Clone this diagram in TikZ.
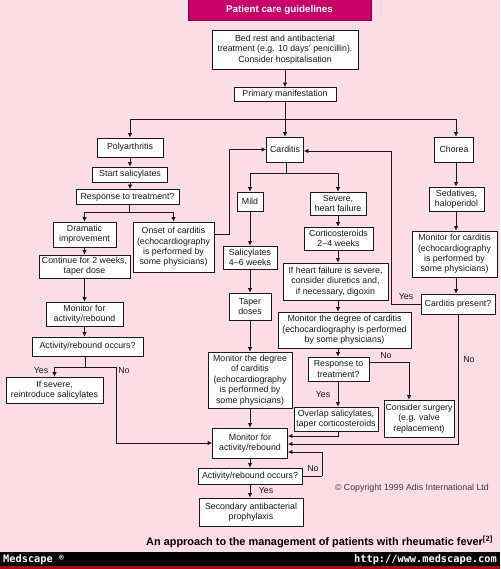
\documentclass[tikz,border=0pt]{standalone}
\usepackage{fontspec}
\setmainfont{Liberation Sans}
\newfontfamily\monofnt{DejaVu Sans Mono}
\usetikzlibrary{arrows.meta}
\definecolor{pinkbg}{RGB}{252,221,229}
\definecolor{titlemag}{RGB}{200,0,104}
\definecolor{barred}{RGB}{170,10,20}
\definecolor{ink}{RGB}{25,25,25}
\newcommand\fs{\fontsize{8.8}{10.4}\selectfont}
\tikzset{
  box/.style={draw=ink, fill=white, line width=0.75pt, inner sep=1pt, align=center, font=\fs, text=ink},
  arr/.style={draw=ink, line width=0.75pt, -{Latex[length=4.5pt,width=4.5pt]}},
  ln/.style={draw=ink, line width=0.75pt},
  lbl/.style={font=\fs, text=ink, inner sep=0pt}
}
\begin{document}
\begin{tikzpicture}[x=1pt,y=-1pt]
\fill[pinkbg] (0,0) rectangle (500,569);
\useasboundingbox (0,0) rectangle (500,569);
% title
\node[draw=titlemag!70!black, fill=titlemag, line width=0.6pt, minimum width=183pt, minimum height=21pt, inner sep=0pt,
      text=white, font=\fontsize{9.8}{11}\selectfont\bfseries] (title) at (279.5,10) {Patient care guidelines};
% nodes
\node[box, minimum width=146pt, minimum height=39pt] (b1) at (285,49.5) {Bed rest and antibacterial\\treatment (e.g. 10 days’ penicillin).\\Consider hospitalisation};
\node[box, minimum width=102pt, minimum height=14pt] (prim) at (285,94.5) {Primary manifestation};
\node[box, minimum width=66pt, minimum height=19pt] (poly) at (130,147.5) {Polyarthritis};
\node[box, minimum width=37pt, minimum height=25pt] (card) at (285,149.5) {Carditis};
\node[box, minimum width=39pt, minimum height=25pt] (chorea) at (454,149.5) {Chorea};
\node[box, minimum width=75pt, minimum height=15pt] (start) at (130,174.5) {Start salicylates};
\node[box, minimum width=103pt, minimum height=15pt] (resp1) at (127.5,197) {Response to treatment?};
\node[box, minimum width=63pt, minimum height=25pt] (dram) at (84.5,234.5) {Dramatic\\improvement};
\node[box, minimum width=81pt, minimum height=50pt] (onset) at (173.5,247) {Onset of carditis\\(echocardiography\\is performed by\\some physicians)};
\node[box, minimum width=91pt, minimum height=23pt] (cont) at (84.5,266.5) {Continue for 2 weeks,\\taper dose};
\node[box, minimum width=77pt, minimum height=24pt] (mon1) at (84.5,314) {Monitor for\\activity/rebound};
\node[box, minimum width=111pt, minimum height=19pt] (act1) at (87.5,346.5) {Activity/rebound occurs?};
\node[box, minimum width=97pt, minimum height=26pt] (sev) at (54.5,390) {If severe,\\reintroduce salicylates};
\node[box, minimum width=26pt, minimum height=19pt] (mild) at (250,201.5) {Mild};
\node[box, minimum width=56pt, minimum height=23pt] (severe) at (338,203.5) {Severe,\\heart failure};
\node[box, minimum width=69pt, minimum height=23pt] (cort) at (338.5,238.5) {Corticosteroids\\2–4 weeks};
\node[box, minimum width=105pt, minimum height=37pt] (ifhf) at (335.5,281.5) {If heart failure is severe,\\consider diuretics and,\\if necessary, digoxin};
\node[box, minimum width=133pt, minimum height=36pt] (mondeg) at (344.5,330) {Monitor the degree of carditis\\(echocardiography is performed\\by some physicians)};
\node[box, minimum width=61pt, minimum height=24pt] (resp2) at (338.5,369) {Response to\\treatment?};
\node[box, minimum width=70pt, minimum height=37pt] (surg) at (419,418.5) {Consider surgery\\(e.g. valve\\replacement)};
\node[box, minimum width=84pt, minimum height=24pt] (overlap) at (336,419) {Overlap salicylates,\\taper corticosteroids};
\node[box, minimum width=54pt, minimum height=23pt] (sal) at (250,257.5) {Salicylates\\4–6 weeks};
\node[box, minimum width=42pt, minimum height=27pt] (taper) at (250,306.5) {Taper\\doses};
\node[box, minimum width=84pt, minimum height=56pt] (mondeg2) at (250,380) {Monitor the degree\\of carditis\\(echocardiography\\is performed by\\some physicians)};
\node[box, minimum width=75pt, minimum height=30pt] (mon2) at (250,443) {Monitor for\\activity/rebound};
\node[box, minimum width=104pt, minimum height=16pt] (act2) at (250,476) {Activity/rebound occurs?};
\node[box, minimum width=104pt, minimum height=28pt] (sec) at (251,512) {Secondary antibacterial\\prophylaxis};
\node[box, minimum width=55pt, minimum height=24pt] (sed) at (456.5,199) {Sedatives,\\haloperidol};
\node[box, minimum width=85pt, minimum height=46pt] (moncard) at (454.5,254) {Monitor for carditis\\(echocardiography\\is performed by\\some physicians)};
\node[box, minimum width=74pt, minimum height=20pt] (cpres) at (458,304) {Carditis present?};
% junctions
\coordinate (j1) at (285,119);
\coordinate (j2) at (286.5,173);
\coordinate (j3) at (129,212);
\coordinate (j4) at (85,367);
\coordinate (jno1) at (116,367);
\coordinate (jsurg) at (409,362);
\coordinate (jyes) at (391,304);
\coordinate (jon) at (229,234);
\coordinate (jloop) at (322,476);
\coordinate (jch) at (456,0);
% connectors top
\draw[arr] (b1.south) -- (prim.north);
\draw[ln] (prim.south) -- (j1);
\draw[arr] (j1) -| (poly.north);
\draw[arr] (j1) -- (card.north);
\draw[arr] (j1) -| (jch |- chorea.north);
% left branch
\draw[arr] (poly.south) -- (start.north);
\draw[arr] (start.south) -- (start.south |- resp1.north);
\draw[ln] (resp1.south -| j3) -- (j3);
\draw[arr] (j3) -| (dram.north);
\draw[arr] (j3) -| (onset.north);
\draw[arr] (dram.south) -- (cont.north);
\draw[arr] (cont.south) -- (mon1.north);
\draw[arr] (mon1.south) -- (mon1.south |- act1.north);
\draw[ln] (act1.south -| j4) -- (j4);
\draw[arr] (j4) -| (sev.north);
\draw[ln] (j4) -- (jno1);
\draw[arr] (jno1) |- (mon2.west);
\node[lbl] (yes1) at (41,371) {Yes};
\node[lbl] (no1) at (124,371) {No};
\draw[arr] ([yshift=-13pt]onset.east) -- (onset.east |- jon) -- (jon) |- (card.west);
% carditis branch
\draw[ln] (card.south -| j2) -- (j2);
\draw[arr] (j2) -| (mild.north);
\draw[arr] (j2) -| (severe.north);
\draw[arr] (mild.south) -- (sal.north);
\draw[arr] (sal.south) -- (taper.north);
\draw[arr] (taper.south) -- (mondeg2.north);
\draw[arr] (mondeg2.south) -- (mon2.north);
\draw[arr] (severe.south) -- (severe.south |- cort.north);
\draw[arr] (cort.south -| severe.south) -- (severe.south |- ifhf.north);
\draw[arr] (ifhf.south -| severe.south) -- (severe.south |- mondeg.north);
\draw[arr] (mondeg.south -| severe.south) -- (severe.south |- resp2.north);
\draw[arr] (resp2.south -| severe.south) -- (severe.south |- overlap.north);
\node[lbl] (yes2) at (323,395) {Yes};
\draw[ln] (resp2.east |- jsurg) -- (jsurg);
\draw[arr] (jsurg) -- (jsurg |- surg.north);
\node[lbl] (no2) at (386,356) {No};
\draw[arr] (overlap.south -| severe.south) |- ([yshift=7pt]mon2.east);
% chorea branch
\draw[arr] (jch |- chorea.south) -- (jch |- sed.north);
\draw[arr] (jch |- sed.south) -- (jch |- moncard.north);
\draw[arr] (jch |- moncard.south) -- (jch |- cpres.north);
\draw[ln] (cpres.west) -- (jyes);
\draw[arr] (jyes) |- ([yshift=-1.5pt]card.east);
\node[lbl] (yes3) at (406,297) {Yes};
\draw[arr] (cpres.south) |- ([yshift=-1pt]mon2.east);
\node[lbl] (no3) at (469,360) {No};
% bottom
\draw[arr] (mon2.south) -- (act2.north);
\draw[ln] (act2.east) -- (jloop);
\draw[arr] (jloop) |- ([yshift=-9pt]mon2.east);
\node[lbl] (no4) at (313,469) {No};
\draw[arr] (act2.south) -- (act2.south |- sec.north);
\node[lbl] (yes4) at (266,491) {Yes};
% texts
\node[lbl, anchor=east, text=ink!85] (copy) at (489,488) {© Copyright 1999 Adis International Ltd};
\node[lbl, anchor=east, font=\fontsize{10.9}{12}\selectfont\bfseries, text=black] (cap) at (493,542) {An approach to the management of patients with rheumatic fever\textsuperscript{[2]}};
% bar
\fill[black] (0,552) rectangle (500,566);
\fill[barred] (0,566) rectangle (500,569);
\node[anchor=west, text=white, inner sep=0pt, font=\monofnt\bfseries\fontsize{10.3}{11}\selectfont] (med) at (3,559.5) {Medscape \raisebox{2pt}{\fontsize{8}{8}\selectfont ®}};
\node[anchor=east, text=white, inner sep=0pt, font=\monofnt\bfseries\fontsize{10.3}{11}\selectfont] (url) at (497,559.5) {http://www.medscape.com};
\end{tikzpicture}
\end{document}
